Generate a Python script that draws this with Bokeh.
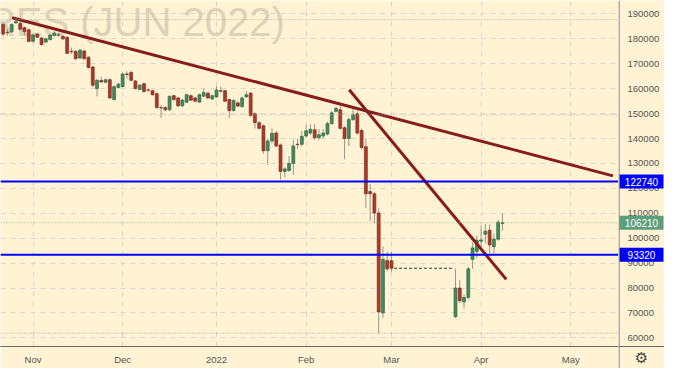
from bokeh.plotting import figure
from bokeh.layouts import row
from bokeh.models import Range1d, FixedTicker, Span
from bokeh.embed import file_html
from bokeh.resources import INLINE
from bokeh.core.properties import value

# ---- data -------------------------------------------------------------
# trading-session ordinal of each bar (exchange closed between 92 and 105)
bar_index = list(range(0, 92)) + list(range(106, 118))

opens = [185800, 182700, 182800, 186400, 186150, 184500, 183600, 179000, 181900, 180300,
         178700, 179700, 181300, 181500, 181000, 180650, 175000, 174900, 172300, 175100,
         172600, 168700, 160100, 163300, 162600, 163600, 155650, 160500, 160800, 165900,
         166500, 163100, 159700, 162000, 159500, 159200, 158000, 152400, 152400, 151500,
         157200, 156300, 153100, 154600, 157200, 156300, 154600, 157000, 158200, 155900,
         156700, 159200, 159200, 155650, 151200, 154300, 152800, 156700, 158200, 149900,
         146300, 145100, 135100, 139000, 142200, 137400, 126800, 127200, 130000, 137700,
         137700, 141000, 142200, 143500, 140300, 141000, 141800, 146000, 150900, 151500,
         144300, 140000, 147600, 149900, 143200, 136700, 118700, 117800, 110100, 70000,
         91000, 91000,
         68500, 80000, 74400, 76200, 91500, 94700, 98800, 101600, 103200, 96600, 99600, 105900]
highs = [186500, 184000, 186200, 188000, 187200, 185000, 184200, 182000, 182300, 180800,
         180400, 181900, 183000, 182500, 181500, 181000, 176500, 175500, 175900, 175600,
         173000, 169100, 164000, 164900, 164000, 164200, 161300, 162400, 166500, 167000,
         167200, 163500, 161900, 162400, 160200, 159600, 158500, 153500, 152900, 157400,
         157600, 156700, 155900, 158000, 157700, 156800, 158000, 160000, 158700, 157700,
         161000, 160800, 159600, 156000, 155700, 155000, 156800, 159000, 158600, 150500,
         147000, 145600, 140000, 144100, 143000, 138000, 128500, 133000, 139500, 140000,
         143000, 145400, 145800, 145800, 143800, 143800, 146800, 151000, 152700, 153000,
         145000, 148500, 152100, 151000, 144000, 140000, 121700, 118500, 112000, 96700,
         94500, 94500,
         87700, 83200, 77500, 88500, 98400, 101000, 105000, 105800, 105500, 101900, 107300, 109800]
lows = [181000, 181300, 182500, 186000, 183500, 181300, 178600, 178500, 180200, 177300,
        178300, 179400, 181000, 180700, 179500, 173800, 174000, 171600, 172000, 171700,
        168000, 160500, 156900, 162300, 162200, 155800, 155200, 160000, 160400, 164000,
        163000, 159700, 159300, 158400, 158800, 157200, 152000, 148200, 151000, 151100,
        155200, 152700, 152600, 154200, 155000, 154500, 154300, 156700, 155900, 155500,
        156300, 158400, 154500, 148100, 150800, 152600, 152400, 156300, 148800, 144000,
        143500, 133900, 129400, 138000, 136500, 123500, 124300, 126500, 125400, 135700,
        136900, 140300, 141500, 139500, 139500, 140000, 141200, 145500, 150400, 143500,
        131700, 137000, 147000, 141500, 135500, 112000, 106900, 106000, 61600, 68000,
        86800, 86500,
        68000, 74000, 71800, 75500, 87700, 91900, 96600, 98000, 94000, 94000, 99000, 103000]
closes = [181900, 182500, 185800, 187000, 183850, 182800, 179000, 181500, 180650, 177700,
          180000, 181500, 182300, 181600, 180000, 174200, 174800, 172000, 175500, 172000,
          168500, 161400, 163350, 162700, 163600, 156300, 160800, 161800, 165900, 165700,
          163350, 160100, 161400, 158850, 159400, 157600, 152400, 152300, 151500, 156900,
          155650, 153100, 155400, 157600, 155400, 155000, 157600, 158500, 156300, 157200,
          159500, 159000, 155000, 151200, 155300, 153000, 156300, 157600, 149200, 146400,
          144100, 135100, 139000, 142100, 137000, 126800, 127800, 130000, 137000, 137600,
          140900, 143100, 143700, 140300, 141500, 142200, 146000, 150300, 152100, 144100,
          140000, 147600, 149500, 142200, 136400, 117800, 117800, 110100, 70400, 91500,
          87700, 87950,
          80000, 74900, 76200, 87700, 96100, 99200, 99300, 102800, 97300, 99600, 106500, 106210]

# trading halt: last session before and first session after, and the price carried
gap_start, gap_end, gap_price = 91, 106, 87950

# drawn levels and trend lines
level_values = [122740, 93320]
last_price = 106210
dotted_levels = [187700, 149500, 61900]
trend1_x, trend1_y = [2.1, 142.9], [188460, 125000]
trend2_x, trend2_y = [81.1, 117.9], [159600, 83470]

# price tags shown on the price scale
tag_values = [122740, 106210, 93320]
tag_colors = ["#0000FF", "#5E9F7B", "#0000FF"]

# axis ticks
month_idx = [7, 28, 50, 71, 91, 112, 133]
month_labels = ["Nov", "Dec", "2022", "Feb", "Mar", "Apr", "May"]
price_ticks = list(range(60000, 200000, 10000))

watermark = "RTS FUTURES (JUN 2022)"

# ---- layout constants ---------------------------------------------------
BG = "#FFF3D3"
W_MAIN, W_SCALE, H = 618, 46, 368
AX_H = 22
X0, X1 = -0.62, 144.2
Y0, Y1 = 56540, 195385
per_px = (Y1 - Y0) / (H - AX_H)

# ---- main chart -----------------------------------------------------------
p = figure(width=W_MAIN, height=H, output_backend="svg", toolbar_location=None,
           x_range=Range1d(X0, X1), y_range=Range1d(Y0, Y1),
           y_axis_location=None,
           min_border_left=0, min_border_top=0, min_border_right=0, min_border_bottom=AX_H,
           background_fill_color=BG, border_fill_color=BG, outline_line_color=None)
p.frame_align = False

p.text(x=[66.0], y=[186800], text=[watermark], text_align="right", text_baseline="alphabetic",
       text_font=value("Liberation Sans"), text_font_size="40px", text_color="#DCD2B7")

p.xgrid.ticker = FixedTicker(ticks=month_idx)
p.ygrid.ticker = FixedTicker(ticks=price_ticks)
for g in (p.xgrid, p.ygrid):
    g.grid_line_color = "#DAD6CB"
    g.grid_line_dash = "5 5"
    g.grid_line_width = 1

for v in dotted_levels:
    p.add_layout(Span(location=v, dimension="width", line_color="#A8A8A0",
                      line_dash="1 2", line_width=1))
p.add_layout(Span(location=last_price, dimension="width", line_color="#86B894",
                  line_dash="1 2", line_width=1))

up_x = [x for x, o, c in zip(bar_index, opens, closes) if c >= o]
dn_x = [x for x, o, c in zip(bar_index, opens, closes) if c < o]
up_top = [c for o, c in zip(opens, closes) if c >= o]
up_bot = [o for o, c in zip(opens, closes) if c >= o]
dn_top = [o for o, c in zip(opens, closes) if c < o]
dn_bot = [c for o, c in zip(opens, closes) if c < o]

p.segment(x0=bar_index, y0=lows, x1=bar_index, y1=highs, line_color="#9A968C", line_width=1)
p.vbar(x=up_x, top=up_top, bottom=up_bot, width=0.68,
       fill_color="#43895C", line_color="#2F6A45", line_width=0.7)
p.vbar(x=dn_x, top=dn_top, bottom=dn_bot, width=0.68,
       fill_color="#A83B2C", line_color="#7C2A1E", line_width=0.7)

p.segment(x0=[gap_start + 0.6], y0=[gap_price], x1=[gap_end - 0.4], y1=[gap_price],
          line_color="#3A3A3A", line_dash="3 2", line_width=1)

for v in level_values:
    p.add_layout(Span(location=v, dimension="width", line_color="#0000FF", line_width=2))

p.line(trend1_x, trend1_y, line_color="#861C1C", line_width=3)
p.line(trend2_x, trend2_y, line_color="#861C1C", line_width=3)

p.xaxis.ticker = FixedTicker(ticks=month_idx)
p.xaxis.major_label_overrides = {i: s for i, s in zip(month_idx, month_labels)}
p.xaxis.axis_line_color = "#6A6A6A"
p.xaxis.major_tick_line_color = None
p.xaxis.minor_tick_line_color = None
p.xaxis.major_tick_out = 0
p.xaxis.major_tick_in = 0
p.xaxis.minor_tick_out = 0
p.xaxis.minor_tick_in = 0
p.xaxis.major_label_text_font = "Liberation Sans"
p.xaxis.major_label_text_font_size = "9.5px"
p.xaxis.major_label_text_color = "#555555"
p.xaxis.major_label_standoff = 7

# ---- price scale column (same price-to-pixel mapping as the chart) -------
q = figure(width=W_SCALE, height=H, output_backend="svg", toolbar_location=None,
           x_range=Range1d(0, W_SCALE), y_range=Range1d(Y0 - AX_H * per_px, Y1),
           x_axis_location=None, y_axis_location=None,
           min_border_left=0, min_border_top=0, min_border_right=0, min_border_bottom=0,
           background_fill_color=BG, border_fill_color=BG, outline_line_color=None)
q.frame_align = False
q.xgrid.visible = False
q.ygrid.visible = False

q.add_layout(Span(location=0.5, dimension="height", line_color="#6A6A6A", line_width=1))
q.add_layout(Span(location=Y0, dimension="width", line_color="#6A6A6A", line_width=1))

q.text(x=[9] * len(price_ticks), y=price_ticks, text=[str(t) for t in price_ticks],
       text_align="left", text_baseline="middle", text_font=value("Liberation Sans"),
       text_font_size="9.5px", text_color="#555555")

q.rect(x=[23] * len(tag_values), y=tag_values, width=44, height=14, height_units="screen",
       fill_color=tag_colors, line_color=None)
q.text(x=[23] * len(tag_values), y=tag_values, text=[str(t) for t in tag_values],
       text_align="center", text_baseline="middle", text_font=value("Liberation Sans"),
       text_font_size="10px", text_color="white")

q.text(x=[23], y=[Y0 - (AX_H / 2) * per_px], text=["\u2699"], text_align="center",
       text_baseline="middle", text_font=value("DejaVu Sans"), text_font_size="15px",
       text_color="#444444")

layout = row(p, q)
open("out.html", "w").write(file_html(layout, INLINE))
